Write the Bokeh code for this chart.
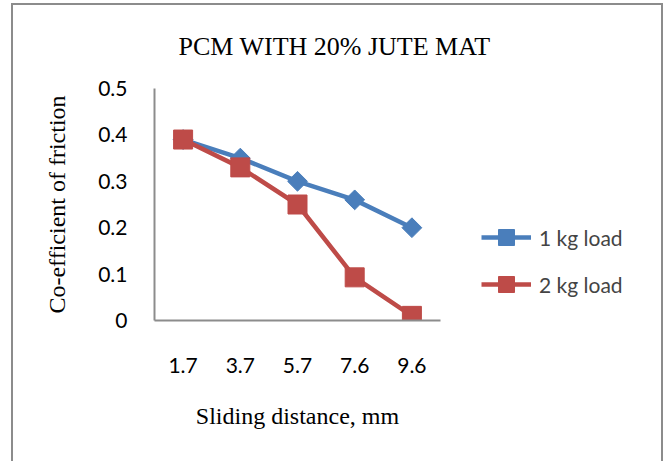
from bokeh.plotting import figure
from bokeh.models import FactorRange, Range1d, Legend, LegendItem, FixedTicker
from bokeh.embed import file_html
from bokeh.resources import INLINE

# Sliding distance categories (mm) and friction coefficients per load
distance = ["1.7", "3.7", "5.7", "7.6", "9.6"]
load_1kg = [0.39, 0.35, 0.30, 0.26, 0.20]
load_2kg = [0.39, 0.33, 0.25, 0.093, 0.01]
y_ticks = [0, 0.1, 0.2, 0.3, 0.4, 0.5]

BLUE = "#4A7EBB"
RED = "#BE4B48"
AXIS_GREY = "#8C8C8C"
SERIF = "Liberation Serif"
SANS = "Lato"

p = figure(
    frame_width=286, frame_height=232,
    x_range=FactorRange(*distance),
    y_range=Range1d(0, 0.5),
    output_backend="svg",
    toolbar_location=None,
    min_border_left=141, min_border_right=0,
    min_border_top=83, min_border_bottom=141,
    title="PCM WITH 20% JUTE MAT",
    styles={"margin": "3px 0 0 11px",
            "box-sizing": "content-box",
            "max-width": "648px",
            "overflow": "hidden",
            "border-top": f"2px solid {AXIS_GREY}",
            "border-left": f"2px solid {AXIS_GREY}",
            "border-right": f"2px solid {AXIS_GREY}"},
)
p.x_range.range_padding = 0
p.outline_line_color = None
p.grid.visible = False
p.background_fill_color = "white"
p.border_fill_color = None

# Title
p.title.text_font = SERIF
p.title.text_font_size = "26px"
p.title.text_font_style = "normal"
p.title.text_color = "black"
p.title.align = "left"
p.title.vertical_align = "top"
p.title.offset = 24
p.title.standoff = 52

# Axes
for ax in (p.xaxis[0], p.yaxis[0]):
    ax.axis_line_color = AXIS_GREY
    ax.axis_line_width = 2
    ax.major_tick_line_color = None
    ax.minor_tick_line_color = None
    ax.major_label_text_font = SANS
    ax.major_label_text_font_size = "21px"
    ax.major_label_text_color = "black"
    ax.axis_label_text_font = SERIF
    ax.axis_label_text_font_size = "24px"
    ax.axis_label_text_font_style = "normal"
    ax.axis_label_text_color = "black"

p.yaxis.ticker = FixedTicker(ticks=y_ticks)
p.yaxis.major_label_overrides = {0: "0"}
p.yaxis.major_label_standoff = 21
p.yaxis.axis_label = "Co-efficient of friction"
p.yaxis.axis_label_standoff = 25

p.xaxis.major_label_standoff = 31
p.xaxis.axis_label = "Sliding distance, mm"
p.xaxis.axis_label_standoff = 27

# Series
l1 = p.line(distance, load_1kg, line_color=BLUE, line_width=4.5)
m1 = p.scatter(distance, load_1kg, marker="square", angle=0.785398, size=14,
               fill_color=BLUE, line_color=BLUE)
l2 = p.line(distance, load_2kg, line_color=RED, line_width=4.5)
m2 = p.scatter(distance, load_2kg, marker="square", size=19,
               fill_color=RED, line_color=RED)

# Legend to the right of the frame; the blank title block sets its vertical offset
legend = Legend(
    items=[LegendItem(label="1 kg load", renderers=[l1, m1]),
           LegendItem(label="2 kg load", renderers=[l2, m2])],
    location="top_left",
    title=" ", title_text_font_size="20px", title_standoff=65,
    border_line_color=None,
    background_fill_alpha=0,
    padding=0, margin=41, spacing=7,
    glyph_width=50, glyph_height=40, label_height=40,
    label_text_font=SANS, label_text_font_size="21px",
    label_standoff=8,
)
p.add_layout(legend, "right")

open("out.html", "w").write(file_html(p, INLINE))
